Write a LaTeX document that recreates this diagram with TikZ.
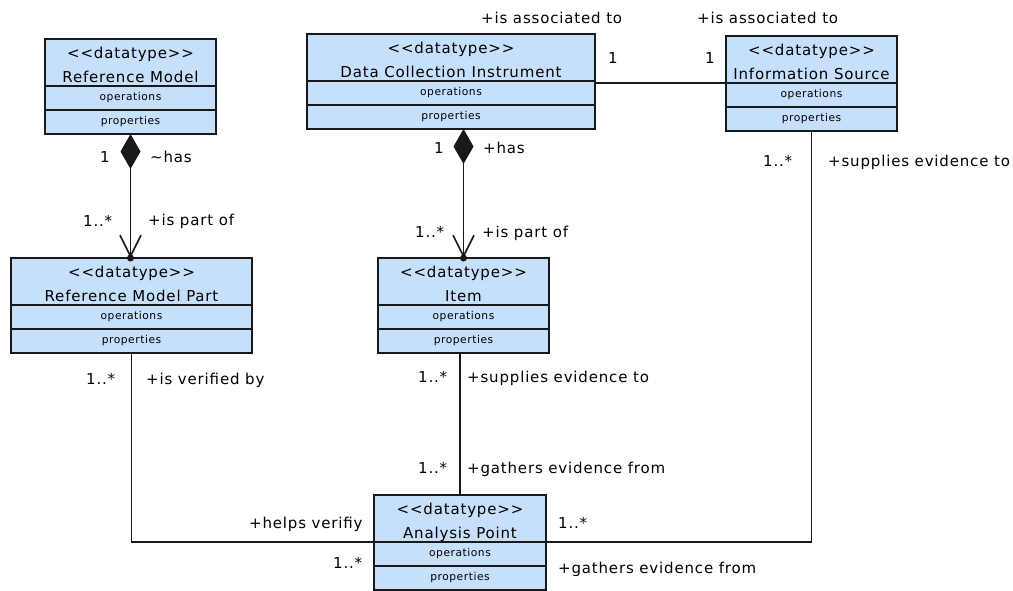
\documentclass[tikz,border=0pt]{standalone}
\usepackage{fontspec}
\usetikzlibrary{arrows.meta}
\newfontfamily\umlfont[LetterSpace=5.5]{DejaVu Sans}
\newfontfamily\umlsmallfont[LetterSpace=5]{DejaVu Sans}
\definecolor{umlfill}{RGB}{198,224,252}
\definecolor{umlline}{RGB}{25,25,25}
\newcommand\lblsize{\umlfont\fontsize{15}{17}\selectfont}
\newcommand\hdrsize{\umlfont\fontsize{15}{24}\selectfont}
\newcommand\cmpsize{\umlsmallfont\fontsize{10.7}{12}\selectfont}
\tikzset{
  hdr/.style={draw=umlline, fill=umlfill, line width=1.6pt, minimum width=#1,
    minimum height=47pt, inner sep=0pt, outer sep=0pt, align=center, anchor=north west, font=\hdrsize},
  cmp/.style={draw=umlline, fill=umlfill, line width=1.6pt, minimum width=#1,
    minimum height=24pt, inner sep=0pt, outer sep=0pt, anchor=north, font=\cmpsize},
  lbl/.style={anchor=base west, inner sep=0pt, font=\lblsize, text=black},
  assoc/.style={draw=umlline, line width=1.6pt},
  comp/.style={assoc, {Diamond[length=35pt,width=20pt]}-{Straight Barb[length=21pt,width=21pt]}},
  tipdot/.style={fill=umlline}
}
\newcommand\umlclass[5]{%
  \node[hdr=#4] (#1) at (#2,#3) {\rule{0pt}{19pt}<<datatype>>\\#5\rule[-4pt]{0pt}{4pt}};
  \node[cmp=#4] (#1-o) at (#1.south) {operations};
  \node[cmp=#4] (#1-p) at (#1-o.south) {properties};
}
\begin{document}
\begin{tikzpicture}[x=1pt,y=-1pt]
\useasboundingbox (0,0) rectangle (1013,590);
\umlclass{rm}{45}{39}{171}{Reference Model}
\umlclass{dci}{307}{34}{288}{Data Collection Instrument}
\umlclass{info}{726}{36}{171}{Information Source}
\umlclass{rmp}{11}{258}{241}{Reference Model Part}
\umlclass{item}{378}{258}{171}{Item}
\umlclass{ap}{374}{495}{172}{Analysis Point}

% connectors
\draw[comp] (rm-p.south) -- (rm-p.south |- rmp.north);
\fill[tipdot] (rm-p.south |- rmp.north) circle (3.5pt);
\draw[comp] (item.north |- dci-p.south) -- (item.north);
\fill[tipdot] (item.north) circle (3.5pt);
\draw[assoc] (dci.east |- info-o.north) -- (info-o.north west);
\draw[assoc] (info-p.south) |- (ap-o.north east);
\draw[assoc] (ap.north) -- (ap.north |- item-p.south);
\draw[assoc] (rmp-p.south) |- (ap-o.north west);

% labels
\node[lbl] (l1) at (481,23) {+is associated to};
\node[lbl] (l2) at (697,23) {+is associated to};
\node[lbl] (l3) at (608,63) {1};
\node[lbl] (l4) at (705,63) {1};
\node[lbl] (l5) at (100,162) {1};
\node[lbl] (l6) at (150,162) {\textasciitilde has};
\node[lbl] (l7) at (83,226) {1..*};
\node[lbl] (l8) at (148,225) {+is part of};
\node[lbl] (l9) at (434,153) {1};
\node[lbl] (l10) at (483,153) {+has};
\node[lbl] (l11) at (415,237) {1..*};
\node[lbl] (l12) at (482,237) {+is part of};
\node[lbl] (l13) at (763,166) {1..*};
\node[lbl] (l14) at (828,166) {+supplies evidence to};
\node[lbl] (l15) at (86,384) {1..*};
\node[lbl] (l16) at (146,384) {+is verified by};
\node[lbl] (l17) at (418,382) {1..*};
\node[lbl] (l18) at (467,382) {+supplies evidence to};
\node[lbl] (l19) at (418,473) {1..*};
\node[lbl] (l20) at (467,473) {+gathers evidence from};
\node[lbl] (l21) at (249,528) {+helps verifiy};
\node[lbl] (l22) at (558,528) {1..*};
\node[lbl] (l23) at (333,568) {1..*};
\node[lbl] (l24) at (558,573) {+gathers evidence from};
\end{tikzpicture}
\end{document}
